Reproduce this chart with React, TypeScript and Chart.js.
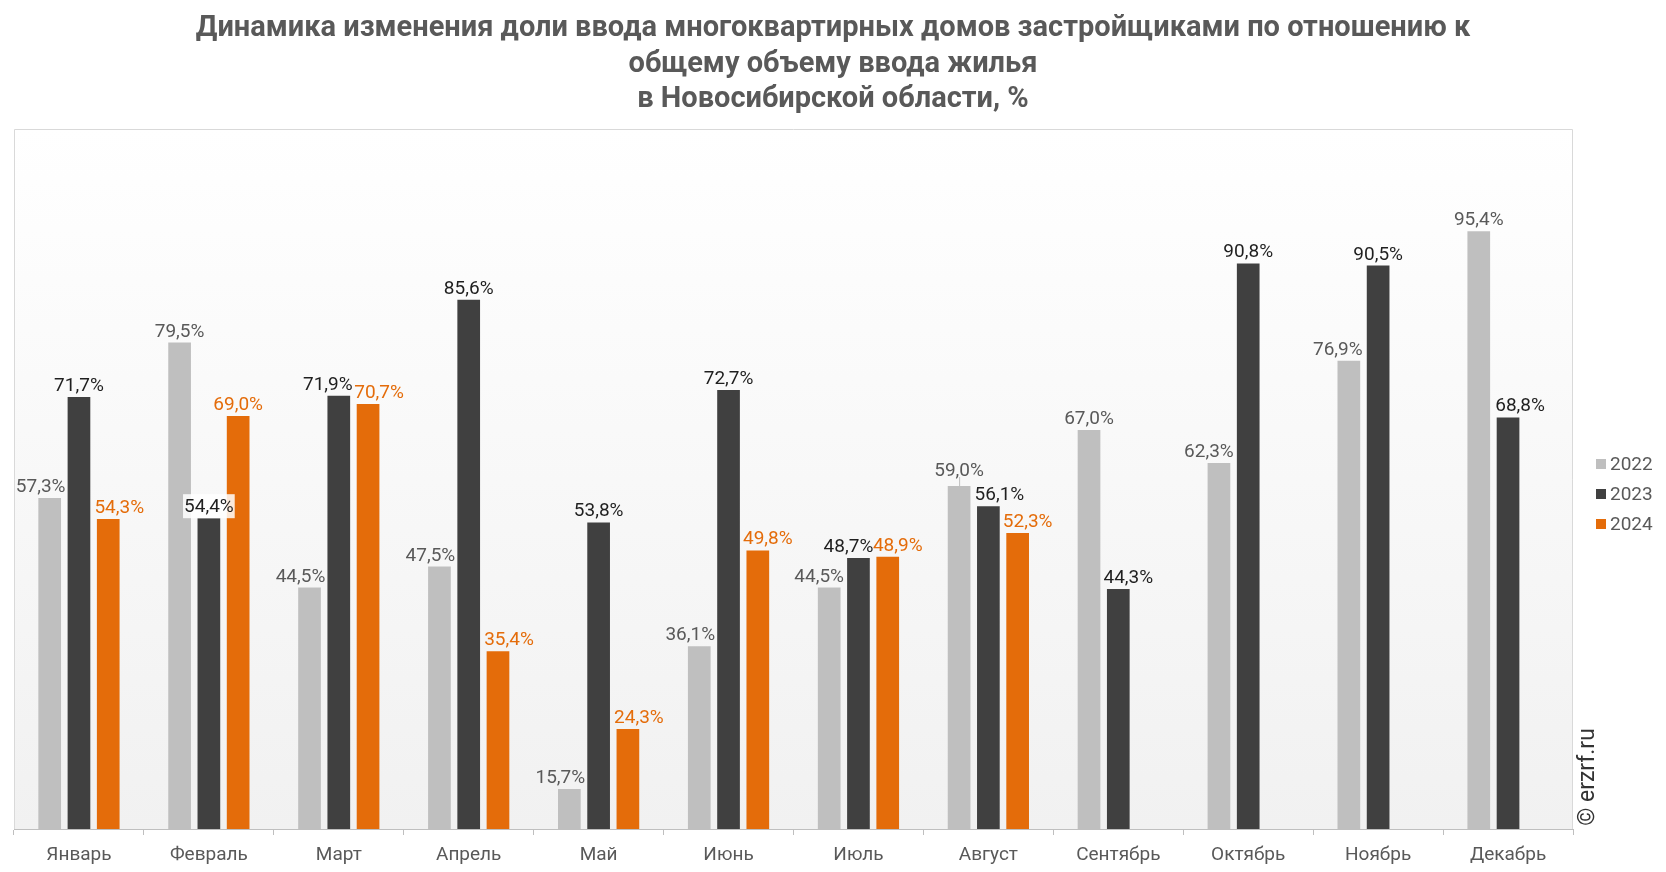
import React, { useEffect, useRef } from "react";
import { Chart, registerables } from "chart.js";

Chart.register(...registerables);

const titleLines = [
  "Динамика изменения доли ввода многоквартирных домов застройщиками по отношению к",
  "общему объему ввода жилья",
  "в Новосибирской области, %",
];

const categories = [
  "Январь", "Февраль", "Март", "Апрель", "Май", "Июнь",
  "Июль", "Август", "Сентябрь", "Октябрь", "Ноябрь", "Декабрь",
];

const seriesNames = ["2022", "2023", "2024"];

const values2022 = [57.3, 79.5, 44.5, 47.5, 15.7, 36.1, 44.5, 59.0, 67.0, 62.3, 76.9, 95.4];
const values2023 = [71.7, 54.4, 71.9, 85.6, 53.8, 72.7, 48.7, 56.1, 44.3, 90.8, 90.5, 68.8];
const values2024 = [54.3, 69.0, 70.7, 35.4, 24.3, 49.8, 48.9, 52.3, null, null, null, null];

const barColors = ["#bfbfbf", "#404040", "#e46c0a"];
const labelColors = ["#595959", "#1f1f1f", "#e46c0a"];

// label nudges (horizontal px) to mimic manual label placement
const labelNudges: Record<string, number> = {
  "0-0": -9, "0-2": -9, "0-3": -9, "0-4": -9, "0-5": -9, "0-6": -10, "0-9": -10, "0-10": -11,
  "1-2": -11, "1-6": -10, "1-7": 11, "1-8": 10, "1-11": 12,
  "2-0": 11, "2-2": 11, "2-3": 11, "2-4": 11, "2-5": 10, "2-6": 10, "2-7": 10,
};

const fmt = (v: number) => v.toFixed(1).replace(".", ",") + "%";

const decorPlugin = {
  id: "decor",
  beforeDraw(chart: any) {
    const { ctx, chartArea } = chart;
    const { left, right, top, bottom } = chartArea;
    ctx.save();
    const g = ctx.createLinearGradient(0, top, 0, bottom);
    g.addColorStop(0, "#ffffff");
    g.addColorStop(1, "#f1f1f1");
    ctx.fillStyle = g;
    ctx.fillRect(left, top, right - left, bottom - top);
    ctx.strokeStyle = "#d9d9d9";
    ctx.lineWidth = 1;
    ctx.beginPath();
    ctx.moveTo(left + 0.5, bottom);
    ctx.lineTo(left + 0.5, top + 0.5);
    ctx.lineTo(right - 0.5, top + 0.5);
    ctx.lineTo(right - 0.5, bottom);
    ctx.stroke();
    ctx.restore();
  },
  afterDraw(chart: any) {
    const { ctx } = chart;
    ctx.save();
    // title
    ctx.fillStyle = "#595959";
    ctx.font = "bold 29px Roboto";
    ctx.textAlign = "center";
    ctx.textBaseline = "alphabetic";
    const baselines = [36, 72, 107];
    titleLines.forEach((t, i) => ctx.fillText(t, 833, baselines[i]));

    // data labels
    ctx.font = "19px Roboto";
    chart.data.datasets.forEach((ds: any, di: number) => {
      const meta = chart.getDatasetMeta(di);
      meta.data.forEach((bar: any, i: number) => {
        const v = ds.data[i];
        if (v === null || v === undefined) return;
        const txt = fmt(v);
        const x = bar.x + (labelNudges[`${di}-${i}`] || 0);
        let y = bar.y - 6;
        if (di === 0 && i === 7) {
          y = bar.y - 10;
          ctx.strokeStyle = "#bfbfbf";
          ctx.lineWidth = 1;
          ctx.beginPath();
          ctx.moveTo(bar.x + 0.5, y + 1);
          ctx.lineTo(bar.x + 0.5, bar.y);
          ctx.stroke();
        }
        ctx.textAlign = "center";
        ctx.textBaseline = "alphabetic";
        if (di === 1 && i === 1) {
          const w = ctx.measureText(txt).width;
          ctx.fillStyle = "rgba(255,255,255,0.85)";
          ctx.fillRect(x - w / 2 - 1, y - 18, w + 2, 24);
        }
        ctx.fillStyle = labelColors[di];
        ctx.fillText(txt, x, y);
      });
    });

    // legend
    ctx.font = "19px Roboto";
    ctx.textAlign = "left";
    ctx.textBaseline = "middle";
    seriesNames.forEach((name, i) => {
      const cy = 464 + i * 30;
      ctx.fillStyle = barColors[i];
      ctx.fillRect(1596, cy - 5, 10, 10);
      ctx.fillStyle = "#595959";
      ctx.fillText(name, 1610, cy + 1);
    });

    // watermark
    ctx.translate(1588, 777);
    ctx.rotate(-Math.PI / 2);
    ctx.font = "23px Roboto";
    ctx.fillStyle = "#333333";
    ctx.textAlign = "center";
    ctx.textBaseline = "middle";
    ctx.fillText("© erzrf.ru", 0, 0);
    ctx.restore();
  },
};

export default function App() {
  const ref = useRef<HTMLCanvasElement | null>(null);
  useEffect(() => {
    document.body.style.margin = "0";
    const canvas = ref.current!;
    const seriesValues = [values2022, values2023, values2024];
    const chart = new Chart(canvas, {
      type: "bar",
      data: {
        labels: categories,
        datasets: seriesNames.map((name, i) => ({
          label: name,
          data: seriesValues[i],
          backgroundColor: barColors[i],
          borderWidth: 0,
          categoryPercentage: 0.676,
          barPercentage: 0.775,
        })),
      },
      options: {
        animation: false,
        responsive: false,
        devicePixelRatio: 1,
        layout: { padding: { top: 129, left: 14, right: 93, bottom: 0 } },
        plugins: {
          legend: { display: false },
          title: { display: false },
          tooltip: { enabled: false },
        },
        scales: {
          x: {
            afterFit: (scale: any) => {
              scale.height = 43;
            },
            grid: {
              offset: true,
              drawOnChartArea: false,
              drawTicks: true,
              tickLength: 6,
              color: "#bfbfbf",
            },
            border: { color: "#bfbfbf" },
            ticks: {
              color: "#595959",
              font: { family: "Roboto", size: 19 },
              padding: 9,
              maxRotation: 0,
              autoSkip: false,
            },
          },
          y: {
            display: false,
            min: 10,
            max: 110,
          },
        },
      },
      plugins: [decorPlugin],
    });
    return () => chart.destroy();
  }, []);
  return <canvas ref={ref} width={1666} height={872} style={{ display: "block" }} />;
}
